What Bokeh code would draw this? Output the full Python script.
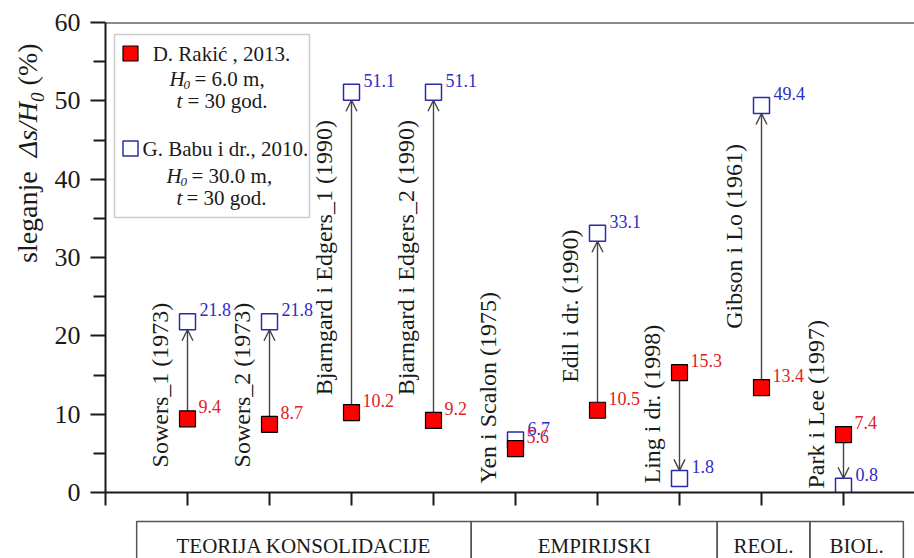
import numpy as np
from math import pi
from bokeh.plotting import figure
from bokeh.models import (ColumnDataSource, Range1d, FixedTicker, Arrow, OpenHead,
                          Label, BoxAnnotation, Span, Div)
from bokeh.layouts import column, row
from bokeh.core.properties import value
from bokeh.embed import file_html
from bokeh.resources import INLINE

# ---------------- data ----------------
names = ["Sowers_1 (1973)", "Sowers_2 (1973)", "Bjarngard i Edgers_1 (1990)",
         "Bjarngard i Edgers_2 (1990)", "Yen i Scalon (1975)", "Edil i dr. (1990)",
         "Ling i dr. (1998)", "Gibson i Lo (1961)", "Park i Lee (1997)"]
rakic = [9.4, 8.7, 10.2, 9.2, 5.6, 10.5, 15.3, 13.4, 7.4]      # D. Rakić, 2013
babu = [21.8, 21.8, 51.1, 51.1, 6.7, 33.1, 1.8, 49.4, 0.8]     # G. Babu i dr., 2010
name_y = [3.2, 3.2, 12.4, 12.4, 1.15, 14.0, 1.15, 20.9, 0.5]   # start of rotated names
groups = ["TEORIJA KONSOLIDACIJE", "EMPIRIJSKI", "REOL.", "BIOL."]
group_edges = [0.38, 4.46, 7.46, 8.59, 9.73]
y_ticks = [0, 10, 20, 30, 40, 50, 60]
y_minor = [5, 15, 25, 35, 45, 55]

FONT = "Liberation Serif"
RED = "#ff0000"
RED_TXT = "#e2201e"
BLUE = "#2b2ba8"
BLUE_TXT = "#2d2dc4"
INK = "#1a1a1a"

TW = 50          # width of the y-title strip
W = 914 - TW     # width of plot area figure
H1, H2 = 508, 50
xs = list(range(1, len(names) + 1))

# page-pixel helpers for decorations (legend)
FX0, FY0, PXU, PYU = 105, 492, 82.0, 470 / 60
def X(px): return (px - FX0) / PXU
def Y(py): return (FY0 - py) / PYU

p = figure(width=W, height=H1, output_backend="svg", toolbar_location=None,
           x_range=Range1d(0, (914 - 105) / 82), y_range=Range1d(0, 60),
           min_border_left=105 - TW, min_border_right=0, min_border_top=22,
           min_border_bottom=H1 - 492)
p.outline_line_color = None
p.xgrid.visible = False
p.ygrid.visible = False
p.background_fill_color = "white"
p.border_fill_color = "white"

xa = p.xaxis[0]
xticks = [0] + xs
xa.ticker = FixedTicker(ticks=xticks)
xa.major_label_overrides = {t: "" for t in xticks}
xa.major_label_text_font_size = "1px"
xa.major_label_standoff = 0
xa.major_tick_out = 13
xa.major_tick_in = 0
xa.minor_tick_line_color = None
xa.axis_line_width = 2
xa.major_tick_line_width = 2
xa.axis_line_color = INK
xa.major_tick_line_color = INK

ya = p.yaxis[0]
ya.ticker = FixedTicker(ticks=y_ticks, minor_ticks=y_minor)
ya.major_tick_out = 15
ya.major_tick_in = 0
ya.minor_tick_out = 12
ya.minor_tick_in = 0
ya.axis_line_width = 2
ya.major_tick_line_width = 2
ya.minor_tick_line_width = 2
ya.axis_line_color = INK
ya.major_tick_line_color = INK
ya.minor_tick_line_color = INK
ya.major_label_text_font = FONT
ya.major_label_text_font_size = "26px"
ya.major_label_text_color = INK
ya.major_label_standoff = 10

p.add_layout(Span(location=60, dimension="width", line_color=INK, line_width=2))

# arrows from Rakić value to Babu value
HALF = 8 / PYU
ax_, ys_, ye_ = [], [], []
for x, r, b in zip(xs, rakic, babu):
    if abs(b - r) < 2:
        continue
    ax_.append(x)
    ys_.append(r)
    ye_.append(b - np.sign(b - r) * HALF)
asrc = ColumnDataSource(dict(x=ax_, ys=ys_, ye=ye_))
p.add_layout(Arrow(x_start="x", y_start="ys", x_end="x", y_end="ye", source=asrc,
                   line_color="#444444", line_width=1.4, level="underlay",
                   end=OpenHead(size=11, line_color="#444444", line_width=1.4)))

src = ColumnDataSource(dict(x=xs, r=rakic, b=babu, name=names, ny=name_y,
                            rt=[f"{v:.1f}" for v in rakic], bt=[f"{v:.1f}" for v in babu]))

p.scatter("x", "b", source=src, marker="square", size=16, fill_color="white",
          line_color=BLUE, line_width=1.5)
p.scatter("x", "r", source=src, marker="square", size=16, fill_color=RED,
          line_color="black", line_width=1.2)

p.text("x", "b", text="bt", source=src, x_offset=12, y_offset=-12,
       text_font=value(FONT), text_font_size="18px", text_color=BLUE_TXT,
       text_align="left", text_baseline="alphabetic")
p.text("x", "r", text="rt", source=src, x_offset=11, y_offset=-12,
       text_font=value(FONT), text_font_size="18px", text_color=RED_TXT,
       text_align="left", text_baseline="alphabetic")

# rotated study names, placed to the left of each marker column
p.text("x", "ny", text="name", source=src, angle=pi / 2, x_offset=-28, y_offset=0,
       text_font=value(FONT), text_font_size="24px", text_color=INK,
       text_align="left", text_baseline="alphabetic")

# legend
p.add_layout(BoxAnnotation(left=X(114), right=X(309), top=Y(34), bottom=Y(217),
                           fill_color="white", fill_alpha=1.0, line_color="#555555",
                           line_width=1.5, level="underlay"))
p.scatter([X(130)], [Y(53)], marker="square", size=15, fill_color=RED,
          line_color="black", line_width=1.2)
p.scatter([X(130)], [Y(148)], marker="square", size=15, fill_color="white",
          line_color=BLUE, line_width=1.5)

def lab(px, py, text, size="21px", style="normal", align="left"):
    p.add_layout(Label(x=X(px), y=Y(py), text=text, text_font=FONT, text_font_size=size,
                       text_font_style=style, text_color=INK, text_align=align,
                       text_baseline="middle"))

lab(221, 53, "D. Rakić , 2013.", align="center")
lab(169, 78, "H", style="italic")
lab(183, 84, "0", size="13px", style="italic")
lab(194, 78, "= 6.0 m,")
lab(176, 100, "t", style="italic")
lab(187, 100, "= 30 god.")
lab(142, 148, "G. Babu i dr., 2010.")
lab(166, 175, "H", style="italic")
lab(180, 181, "0", size="13px", style="italic")
lab(191, 175, "= 30.0 m,")
lab(176, 197, "t", style="italic")
lab(186, 197, "= 30 god.")

# y-axis title as rotated HTML text in a narrow strip
title_html = (
    '<div style="position:relative;width:%dpx;height:%dpx;overflow:visible;">'
    '<div style="position:absolute;left:14px;top:263px;transform-origin:0 0;'
    'transform:rotate(-90deg);white-space:nowrap;font-family:\'Liberation Serif\';'
    'font-size:28px;line-height:1;color:%s;">'
    'sleganje&nbsp;&nbsp;<i>&Delta;s/H<sub style="font-size:19px;">0</sub></i>&nbsp;(%%)'
    '</div></div>' % (TW, H1 + H2, INK))
pt = Div(text=title_html, width=TW, height=H1 + H2, margin=(0, 0, 0, 0))

# category group band
p2 = figure(width=W, height=H2, output_backend="svg", toolbar_location=None,
            x_range=p.x_range, y_range=Range1d(0, H2),
            x_axis_location=None, y_axis_location=None,
            min_border_left=105 - TW, min_border_right=0, min_border_top=0, min_border_bottom=0)
p2.outline_line_color = None
p2.grid.visible = False
gsrc = ColumnDataSource(dict(left=group_edges[:-1], right=group_edges[1:],
                             mid=[(a + b) / 2 for a, b in zip(group_edges[:-1], group_edges[1:])],
                             name=groups))
p2.quad(left="left", right="right", top=H2 - (521 - H1), bottom=-5, source=gsrc,
        fill_color=None, line_color="#555555", line_width=1.5)
p2.text("mid", H2 - (545 - H1), text="name", source=gsrc, text_font=value(FONT),
        text_font_size="21px", text_color=INK, text_align="center", text_baseline="middle")

layout = row(pt, column(p, p2, spacing=0), spacing=0)
open("out.html", "w").write(file_html(layout, INLINE))
